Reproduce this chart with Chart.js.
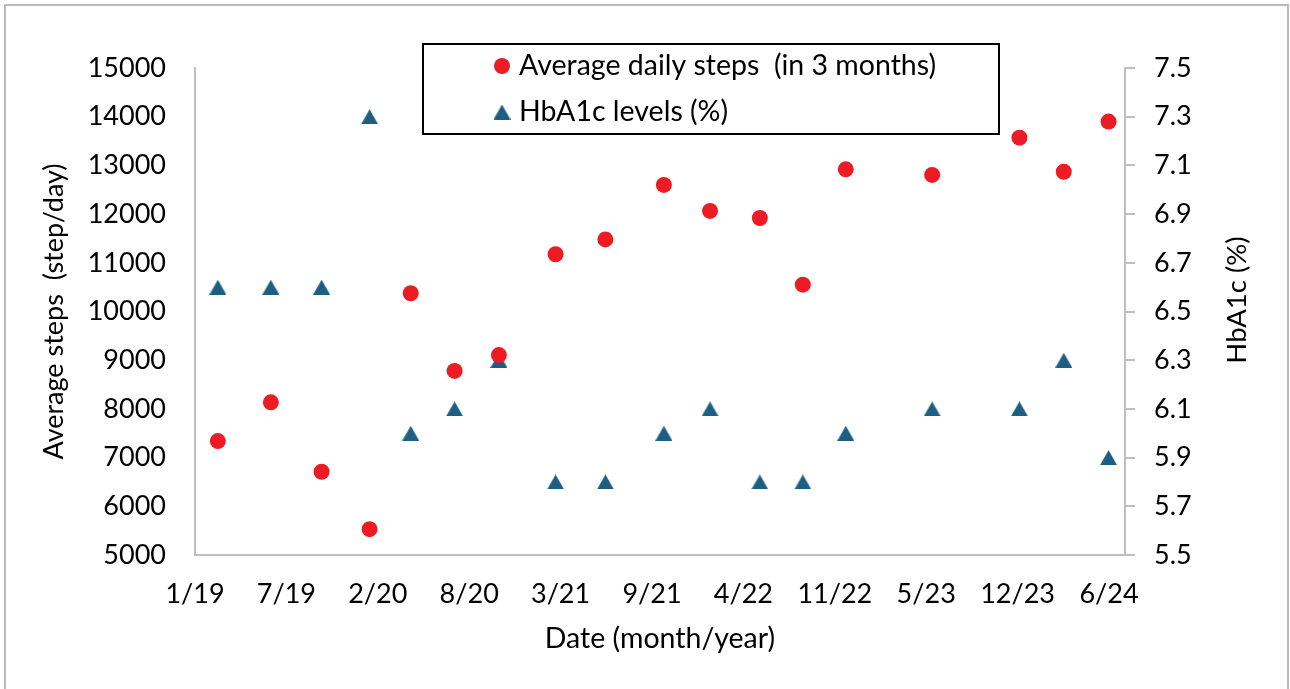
<!DOCTYPE html>
<html>
<head>
<meta charset="utf-8">
<script src="https://cdn.jsdelivr.net/npm/chart.js@4.4.1/dist/chart.umd.min.js"></script>
<style>
  html, body { margin: 0; padding: 0; background: #fff; }
  #wrap { position: relative; width: 1290px; height: 689px; }
</style>
</head>
<body>
<div id="wrap"><canvas id="chart"></canvas></div>
<script>
// x values are days counted from 1 Jan 2019
const sampleDays = [50, 166, 277, 382, 472, 568, 665, 789, 898, 1026, 1127, 1236, 1330, 1424, 1613, 1804, 1901, 1999];
const avgSteps = [7340, 8135, 6710, 5530, 10375, 8780, 9105, 11175, 11480, 12600, 12065, 11920, 10550, 12920, 12805, 13570, 12870, 13900];
const hba1c = [6.6, 6.6, 6.6, 7.3, 6.0, 6.1, 6.3, 5.8, 5.8, 6.0, 6.1, 5.8, 5.8, 6.0, 6.1, 6.1, 6.3, 5.9];
const xTickDays = [0, 200, 400, 600, 800, 1000, 1200, 1400, 1600, 1800, 2000];
const xTickLabels = ['1/19', '7/19', '2/20', '8/20', '3/21', '9/21', '4/22', '11/22', '5/23', '12/23', '6/24'];

const FONT = "Lato, 'Open Sans', sans-serif";
const TXT = '#000000';
const AXIS = '#bfbfbf';
const RED = '#ED1C24';
const BLUE = '#1C5F82';
const tickFont = { family: FONT, size: 27 };

function triangleMarker(w, h, color) {
    const c = document.createElement('canvas');
    c.width = w; c.height = h;
    const g = c.getContext('2d');
    g.fillStyle = color;
    g.beginPath();
    g.moveTo(w / 2, 0); g.lineTo(w, h); g.lineTo(0, h);
    g.closePath(); g.fill();
    return c;
}
const triMarker = triangleMarker(17, 15, BLUE);

// outer frame, right-hand axis title (reads bottom to top) and boxed legend
const decor = {
    id: 'decor',
    afterDraw(chart) {
        const ctx = chart.ctx;
        ctx.save();
        ctx.strokeStyle = '#bababa';
        ctx.lineWidth = 2;
        ctx.strokeRect(5, 5, 1283, 720);

        ctx.fillStyle = TXT;
        ctx.font = `27.5px ${FONT}`;
        ctx.textAlign = 'center';
        ctx.textBaseline = 'middle';
        ctx.translate(1237, 300);
        ctx.rotate(-Math.PI / 2);
        ctx.fillText('HbA1c (%)', 0, 0);
        ctx.setTransform(1, 0, 0, 1, 0, 0);

        ctx.strokeStyle = '#000';
        ctx.strokeRect(423, 44, 576, 90);
        ctx.font = `28.5px ${FONT}`;
        const rows = [66, 112];
        chart.data.datasets.forEach((ds, i) => {
            const y = rows[i];
            if (ds.pointStyle === 'circle') {
                ctx.fillStyle = ds.backgroundColor;
                ctx.beginPath();
                ctx.arc(502, y, ds.pointRadius, 0, Math.PI * 2);
                ctx.fill();
            } else {
                ctx.drawImage(ds.pointStyle, 502 - ds.pointStyle.width / 2, y - ds.pointStyle.height / 2);
            }
            ctx.fillStyle = TXT;
            ctx.textAlign = 'left';
            ctx.fillText(ds.label, 519, y);
        });
        ctx.restore();
    }
};

new Chart(document.getElementById('chart'), {
    type: 'scatter',
    data: {
        datasets: [
            {
                label: 'Average daily steps  (in 3 months)',
                data: sampleDays.map((d, i) => ({ x: d, y: avgSteps[i] })),
                yAxisID: 'ySteps',
                pointStyle: 'circle',
                pointRadius: 8,
                backgroundColor: RED,
                borderWidth: 0
            },
            {
                label: 'HbA1c levels (%)',
                data: sampleDays.map((d, i) => ({ x: d, y: hba1c[i] })),
                yAxisID: 'yHb',
                pointStyle: triMarker,
                pointRadius: 8,
                backgroundColor: BLUE,
                borderWidth: 0
            }
        ]
    },
    options: {
        responsive: true,
        maintainAspectRatio: false,
        animation: false,
        layout: { padding: { top: 68, left: 0, right: 0, bottom: 0 } },
        plugins: { legend: { display: false }, tooltip: { enabled: false } },
        scales: {
            x: {
                type: 'linear',
                position: 'bottom',
                min: 0,
                max: 2035,
                afterBuildTicks: s => { s.ticks = xTickDays.map(v => ({ value: v })); },
                afterFit: s => { s.height = 134; },
                grid: { display: false },
                border: { display: true, color: AXIS, width: 2 },
                ticks: {
                    autoSkip: false, maxRotation: 0, padding: 15, font: tickFont, color: TXT,
                    callback: (v, i) => xTickLabels[i]
                },
                title: {
                    display: true, text: 'Date (month/year)', font: { family: FONT, size: 28.5 }, color: TXT,
                    padding: { top: 0, bottom: 33 }
                }
            },
            ySteps: {
                type: 'linear',
                position: 'left',
                min: 5000,
                max: 15000,
                afterFit: s => { s.width = 195; },
                grid: { display: false },
                border: { display: true, color: AXIS, width: 2 },
                ticks: { stepSize: 1000, padding: 21, font: tickFont, color: TXT, callback: v => String(v) },
                title: {
                    display: true, text: 'Average steps  (step/day)', font: { family: FONT, size: 27 }, color: TXT,
                    padding: { top: 38, bottom: 0 }
                }
            },
            yHb: {
                type: 'linear',
                position: 'right',
                min: 5.5,
                max: 7.5,
                afterFit: s => { s.width = 165; },
                grid: { display: true, drawOnChartArea: false, drawTicks: true, tickLength: 10, color: AXIS, lineWidth: 2 },
                border: { display: true, color: AXIS, width: 2 },
                ticks: { stepSize: 0.2, padding: 19, font: tickFont, color: TXT, callback: v => v.toFixed(1) }
            }
        }
    },
    plugins: [decor]
});
</script>
</body>
</html>
